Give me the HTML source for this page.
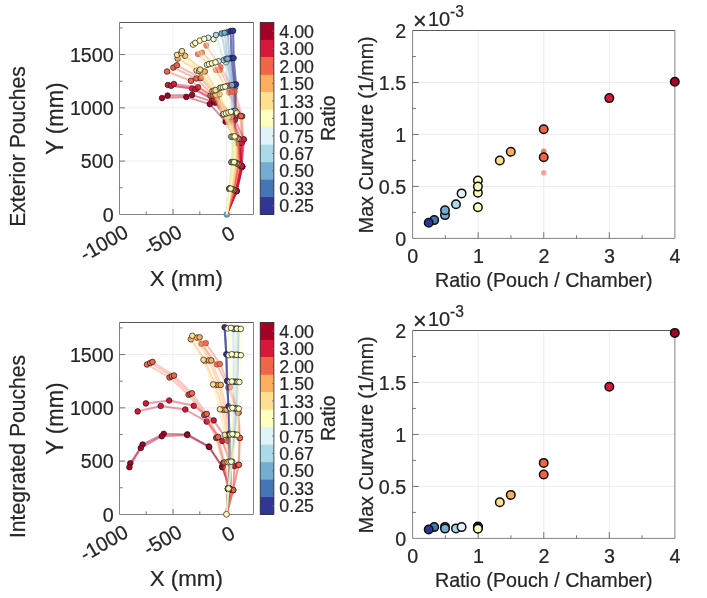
<!DOCTYPE html>
<html lang="en"><head><meta charset="utf-8"><title>Pouch ratio vs. curvature</title>
<style>
html,body{margin:0;padding:0;background:#fff;}
body{width:707px;height:598px;overflow:hidden;}
svg{display:block;will-change:transform;}
text{font-family:"Liberation Sans", Arial, Helvetica, sans-serif;fill:#262626;stroke:#262626;stroke-width:0.22px;}
.t18{font-size:17.8px;}.t19{font-size:19.7px;}.t20{font-size:19.7px;}.t20c{font-size:19.5px;}.t22{font-size:22.3px;}.t21r{font-size:20.2px;}.t20m{font-size:19.7px;}.t21{font-size:21.1px;}
.grid{stroke:#e9e9e9;stroke-width:0.8;}
.boxs{fill:none;stroke:#838383;stroke-width:1;}.boxt{fill:none;stroke:#454545;stroke-width:0.9;}
.cbox{fill:none;stroke:#262626;stroke-width:0.8;}
.tick{stroke:#666;stroke-width:0.9;}
.mk{stroke:#1a1a1a;stroke-width:0.7;}
.mk2{stroke:#0d0d0d;stroke-width:1.5;}
</style></head><body>
<svg width="707" height="598" viewBox="0 0 707 598">
<rect width="707" height="598" fill="#fff"/>
<text transform="translate(24.9 146.5) rotate(-90)" font-size="22.7" text-anchor="middle" textLength="160.6" lengthAdjust="spacingAndGlyphs">Exterior Pouches</text>
<text transform="translate(24.9 446.5) rotate(-90)" font-size="22.7" text-anchor="middle" textLength="183.0" lengthAdjust="spacingAndGlyphs">Integrated Pouches</text>
<g id="tl">
<line x1="173" y1="22.5" x2="173" y2="214.5" class="grid"/>
<line x1="226.6" y1="22.5" x2="226.6" y2="214.5" class="grid"/>
<line x1="119.5" y1="161.12" x2="253.5" y2="161.12" class="grid"/>
<line x1="119.5" y1="107.84" x2="253.5" y2="107.84" class="grid"/>
<line x1="119.5" y1="54.56" x2="253.5" y2="54.56" class="grid"/>
<path d="M119.5 214.5 V22.5" class="boxs"/><path d="M253.5 214.5 V22.5" class="boxs"/><path d="M119.5 214.5 H253.5" class="boxs"/><path d="M119.5 22.5 H253.5" class="boxt"/>
<line x1="119.5" y1="187.76" x2="122.6" y2="187.76" class="tick"/>
<line x1="119.5" y1="161.12" x2="125.1" y2="161.12" class="tick"/>
<line x1="119.5" y1="134.48" x2="122.6" y2="134.48" class="tick"/>
<line x1="119.5" y1="107.84" x2="125.1" y2="107.84" class="tick"/>
<line x1="119.5" y1="81.2" x2="122.6" y2="81.2" class="tick"/>
<line x1="119.5" y1="54.56" x2="125.1" y2="54.56" class="tick"/>
<line x1="119.5" y1="27.92" x2="122.6" y2="27.92" class="tick"/>
<line x1="146.2" y1="214.5" x2="146.2" y2="211.4" class="tick"/>
<line x1="173" y1="214.5" x2="173" y2="208.9" class="tick"/>
<line x1="199.8" y1="214.5" x2="199.8" y2="211.4" class="tick"/>
<line x1="226.6" y1="214.5" x2="226.6" y2="208.9" class="tick"/>
<text x="113.7" y="221.6" class="t19" text-anchor="end">0</text>
<text x="113.7" y="168.32" class="t19" text-anchor="end">500</text>
<text x="113.7" y="115.04" class="t19" text-anchor="end">1000</text>
<text x="113.7" y="61.76" class="t19" text-anchor="end">1500</text>
<text transform="translate(122.8 223.9) rotate(-30)" x="0" y="14" class="t21r" text-anchor="end">-1000</text>
<text transform="translate(176.4 223.9) rotate(-30)" x="0" y="14" class="t21r" text-anchor="end">-500</text>
<text transform="translate(229.6 225.1) rotate(-30)" x="0" y="14" class="t21r" text-anchor="end">0</text>
<text x="186.3" y="286.4" class="t22" text-anchor="middle">X (mm)</text>
<text transform="translate(63.4 118.6) rotate(-90)" font-size="23.2" text-anchor="middle" textLength="72.3" lengthAdjust="spacingAndGlyphs">Y (mm)</text>
<circle cx="226.8" cy="214.4" r="2.9" fill="#62a6cd" stroke="#3a7896" stroke-width="0.6"/>
<path d="M226.8 214.4 L230.6 188.7 L234.3 162.5 L235.8 137.6 L236.8 113 L235.1 87.5 L226 62.3 L213.5 39.1" fill="none" stroke="#ffffbf" stroke-width="2.0" stroke-opacity="0.43" stroke-linejoin="round"/>
<circle cx="230.6" cy="188.7" r="2.8" fill="#ffffbf" class="mk"/>
<circle cx="234.3" cy="162.5" r="2.8" fill="#ffffbf" class="mk"/>
<circle cx="235.8" cy="137.6" r="2.8" fill="#ffffbf" class="mk"/>
<circle cx="236.8" cy="113" r="2.8" fill="#ffffbf" class="mk"/>
<circle cx="235.1" cy="87.5" r="2.8" fill="#ffffbf" class="mk"/>
<circle cx="226" cy="62.3" r="2.8" fill="#ffffbf" class="mk"/>
<circle cx="213.5" cy="39.1" r="2.8" fill="#ffffbf" class="mk"/>
<path d="M226.8 214.4 L229.5 188.7 L231.8 162.2 L232.2 136.7" fill="none" stroke="#abd9e9" stroke-width="2.0" stroke-opacity="0.12" stroke-linejoin="round"/>
<path d="M232.2 136.7 L232 111.8 L229 85.6 L223.6 60.1 L216 35" fill="none" stroke="#abd9e9" stroke-width="2.0" stroke-opacity="0.43" stroke-linejoin="round"/>
<circle cx="229.5" cy="188.7" r="2.8" fill="#abd9e9" class="mk"/>
<circle cx="231.8" cy="162.2" r="2.8" fill="#abd9e9" class="mk"/>
<circle cx="232.2" cy="136.7" r="2.8" fill="#abd9e9" class="mk"/>
<circle cx="232" cy="111.8" r="2.8" fill="#abd9e9" class="mk"/>
<circle cx="229" cy="85.6" r="2.8" fill="#abd9e9" class="mk"/>
<circle cx="223.6" cy="60.1" r="2.8" fill="#abd9e9" class="mk"/>
<circle cx="216" cy="35" r="2.8" fill="#abd9e9" class="mk"/>
<path d="M226.8 214.4 L229.4 188.7 L231.6 162.2 L231.8 136.7" fill="none" stroke="#e0f3f8" stroke-width="2.0" stroke-opacity="0.12" stroke-linejoin="round"/>
<path d="M231.8 136.7 L231 112.2 L227 86.1 L218.5 61.3 L208.2 37.8" fill="none" stroke="#e0f3f8" stroke-width="2.0" stroke-opacity="0.43" stroke-linejoin="round"/>
<circle cx="229.4" cy="188.7" r="2.8" fill="#e0f3f8" class="mk"/>
<circle cx="231.6" cy="162.2" r="2.8" fill="#e0f3f8" class="mk"/>
<circle cx="231.8" cy="136.7" r="2.8" fill="#e0f3f8" class="mk"/>
<circle cx="231" cy="112.2" r="2.8" fill="#e0f3f8" class="mk"/>
<circle cx="227" cy="86.1" r="2.8" fill="#e0f3f8" class="mk"/>
<circle cx="218.5" cy="61.3" r="2.8" fill="#e0f3f8" class="mk"/>
<circle cx="208.2" cy="37.8" r="2.8" fill="#e0f3f8" class="mk"/>
<path d="M226.8 214.4 L229.8 188.7 L232.4 162.2 L233.3 136.6" fill="none" stroke="#4575b4" stroke-width="2.0" stroke-opacity="0.12" stroke-linejoin="round"/>
<path d="M233.3 136.6 L234.8 111 L233 85 L229.5 58.5 L227.6 32.2" fill="none" stroke="#4575b4" stroke-width="2.0" stroke-opacity="0.43" stroke-linejoin="round"/>
<circle cx="229.8" cy="188.7" r="2.8" fill="#4575b4" class="mk"/>
<circle cx="232.4" cy="162.2" r="2.8" fill="#4575b4" class="mk"/>
<circle cx="233.3" cy="136.6" r="2.8" fill="#4575b4" class="mk"/>
<circle cx="234.8" cy="111" r="2.8" fill="#4575b4" class="mk"/>
<circle cx="233" cy="85" r="2.8" fill="#4575b4" class="mk"/>
<circle cx="229.5" cy="58.5" r="2.8" fill="#4575b4" class="mk"/>
<circle cx="227.6" cy="32.2" r="2.8" fill="#4575b4" class="mk"/>
<path d="M226.8 214.4 L229.9 188.6 L232.6 162.2 L233.6 136.6" fill="none" stroke="#313695" stroke-width="2.0" stroke-opacity="0.12" stroke-linejoin="round"/>
<path d="M233.6 136.6 L235 111 L234.5 84.8 L231.6 58.1 L230.6 31" fill="none" stroke="#313695" stroke-width="2.0" stroke-opacity="0.43" stroke-linejoin="round"/>
<path d="M233.6 136.6 L235 111 L234.5 84.8 L231.6 58.1 L230.6 31" fill="none" stroke="#313695" stroke-width="2.0" stroke-opacity="0.43" stroke-linejoin="round"/>
<circle cx="229.9" cy="188.6" r="2.8" fill="#313695" class="mk"/>
<circle cx="232.6" cy="162.2" r="2.8" fill="#313695" class="mk"/>
<circle cx="233.6" cy="136.6" r="2.8" fill="#313695" class="mk"/>
<circle cx="235" cy="111" r="2.8" fill="#313695" class="mk"/>
<circle cx="234.5" cy="84.8" r="2.8" fill="#313695" class="mk"/>
<circle cx="231.6" cy="58.1" r="2.8" fill="#313695" class="mk"/>
<circle cx="230.6" cy="31" r="2.8" fill="#313695" class="mk"/>
<path d="M226.8 214.4 L230 188.6 L232.8 162.2 L234 136.6" fill="none" stroke="#313695" stroke-width="2.0" stroke-opacity="0.12" stroke-linejoin="round"/>
<path d="M234 136.6 L235.6 111 L236 84.3 L233.6 58.1 L233.1 30.8" fill="none" stroke="#313695" stroke-width="2.0" stroke-opacity="0.43" stroke-linejoin="round"/>
<path d="M234 136.6 L235.6 111 L236 84.3 L233.6 58.1 L233.1 30.8" fill="none" stroke="#313695" stroke-width="2.0" stroke-opacity="0.43" stroke-linejoin="round"/>
<circle cx="230" cy="188.6" r="2.8" fill="#313695" class="mk"/>
<circle cx="232.8" cy="162.2" r="2.8" fill="#313695" class="mk"/>
<circle cx="234" cy="136.6" r="2.8" fill="#313695" class="mk"/>
<circle cx="235.6" cy="111" r="2.8" fill="#313695" class="mk"/>
<circle cx="236" cy="84.3" r="2.8" fill="#313695" class="mk"/>
<circle cx="233.6" cy="58.1" r="2.8" fill="#313695" class="mk"/>
<circle cx="233.1" cy="30.8" r="2.8" fill="#313695" class="mk"/>
<path d="M226.8 214.4 L229.6 188.7 L232 162.2 L232.6 136.7" fill="none" stroke="#74add1" stroke-width="2.0" stroke-opacity="0.12" stroke-linejoin="round"/>
<path d="M232.6 136.7 L233 111.4 L230.9 85.5 L226.3 58.9 L221.6 33.5" fill="none" stroke="#74add1" stroke-width="2.0" stroke-opacity="0.43" stroke-linejoin="round"/>
<circle cx="229.6" cy="188.7" r="2.8" fill="#74add1" class="mk"/>
<circle cx="232" cy="162.2" r="2.8" fill="#74add1" class="mk"/>
<circle cx="232.6" cy="136.7" r="2.8" fill="#74add1" class="mk"/>
<circle cx="233" cy="111.4" r="2.8" fill="#74add1" class="mk"/>
<circle cx="230.9" cy="85.5" r="2.8" fill="#74add1" class="mk"/>
<circle cx="226.3" cy="58.9" r="2.8" fill="#74add1" class="mk"/>
<circle cx="221.6" cy="33.5" r="2.8" fill="#74add1" class="mk"/>
<path d="M226.8 214.4 L229.7 188.7 L232.2 162.2 L233 136.6" fill="none" stroke="#74add1" stroke-width="2.0" stroke-opacity="0.12" stroke-linejoin="round"/>
<path d="M233 136.6 L235.1 110.8 L232 85.1 L227.5 58.8 L224.6 32.8" fill="none" stroke="#74add1" stroke-width="2.0" stroke-opacity="0.43" stroke-linejoin="round"/>
<circle cx="229.7" cy="188.7" r="2.8" fill="#74add1" class="mk"/>
<circle cx="232.2" cy="162.2" r="2.8" fill="#74add1" class="mk"/>
<circle cx="233" cy="136.6" r="2.8" fill="#74add1" class="mk"/>
<circle cx="235.1" cy="110.8" r="2.8" fill="#74add1" class="mk"/>
<circle cx="232" cy="85.1" r="2.8" fill="#74add1" class="mk"/>
<circle cx="227.5" cy="58.8" r="2.8" fill="#74add1" class="mk"/>
<circle cx="224.6" cy="32.8" r="2.8" fill="#74add1" class="mk"/>
<circle cx="237" cy="112.9" r="2.8" fill="#ffffbf" class="mk"/>
<path d="M226.8 214.4 L234.5 190.1 L239.5 164.5 L243.1 140.1 L242.2 116.3 L234.7 91.3 L220.6 67.1 L206.2 45.6" fill="none" stroke="#f16448" stroke-width="2.0" stroke-opacity="0.33" stroke-linejoin="round"/>
<circle cx="234.5" cy="190.1" r="2.8" fill="#f16448" class="mk"/>
<circle cx="239.5" cy="164.5" r="2.8" fill="#f16448" class="mk"/>
<circle cx="243.1" cy="140.1" r="2.8" fill="#f16448" class="mk"/>
<circle cx="242.2" cy="116.3" r="2.8" fill="#f16448" class="mk"/>
<circle cx="234.7" cy="91.3" r="2.8" fill="#f16448" fill-opacity="0.82" stroke="#401510" stroke-opacity="0.3" stroke-width="0.7"/>
<circle cx="220.6" cy="67.1" r="2.8" fill="#f16448" fill-opacity="0.82" stroke="#401510" stroke-opacity="0.3" stroke-width="0.7"/>
<circle cx="206.2" cy="45.6" r="2.8" fill="#f16448" fill-opacity="0.82" stroke="#401510" stroke-opacity="0.3" stroke-width="0.7"/>
<path d="M226.8 214.4 L234.2 190.1 L238.8 164.4 L242.3 140.3 L240.1 115.9 L228.8 92.6 L216 70.2 L197.9 54.1" fill="none" stroke="#f16448" stroke-width="2.0" stroke-opacity="0.33" stroke-linejoin="round"/>
<circle cx="234.2" cy="190.1" r="2.8" fill="#f16448" class="mk"/>
<circle cx="238.8" cy="164.4" r="2.8" fill="#f16448" class="mk"/>
<circle cx="242.3" cy="140.3" r="2.8" fill="#f16448" class="mk"/>
<circle cx="240.1" cy="115.9" r="2.8" fill="#f16448" class="mk"/>
<circle cx="228.8" cy="92.6" r="2.8" fill="#f16448" fill-opacity="0.82" stroke="#401510" stroke-opacity="0.3" stroke-width="0.7"/>
<circle cx="216" cy="70.2" r="2.8" fill="#f16448" fill-opacity="0.82" stroke="#401510" stroke-opacity="0.3" stroke-width="0.7"/>
<circle cx="197.9" cy="54.1" r="2.8" fill="#f16448" fill-opacity="0.82" stroke="#401510" stroke-opacity="0.3" stroke-width="0.7"/>
<path d="M226.8 214.4 L234.4 190.1 L239.2 164.5 L242.8 140.2 L241 116 L232 91.8 L219.6 70.2 L202 52.6" fill="none" stroke="#f16448" stroke-width="2.0" stroke-opacity="0.33" stroke-linejoin="round"/>
<circle cx="234.4" cy="190.1" r="2.8" fill="#f16448" class="mk"/>
<circle cx="239.2" cy="164.5" r="2.8" fill="#f16448" class="mk"/>
<circle cx="242.8" cy="140.2" r="2.8" fill="#f16448" class="mk"/>
<circle cx="241" cy="116" r="2.8" fill="#f16448" class="mk"/>
<circle cx="232" cy="91.8" r="2.8" fill="#f16448" fill-opacity="0.82" stroke="#401510" stroke-opacity="0.3" stroke-width="0.7"/>
<circle cx="219.6" cy="70.2" r="2.8" fill="#f16448" fill-opacity="0.82" stroke="#401510" stroke-opacity="0.3" stroke-width="0.7"/>
<circle cx="202" cy="52.6" r="2.8" fill="#f16448" fill-opacity="0.82" stroke="#401510" stroke-opacity="0.3" stroke-width="0.7"/>
<path d="M226.8 214.4 L236.6 191.1 L242.1 166.6 L237.6 143.1" fill="none" stroke="#a50026" stroke-width="2" stroke-opacity="0.4" stroke-linejoin="round"/>
<path d="M226.8 214.4 L236.6 191.1 L242.1 166.6 L237.6 143.1 L225.6 121.7 L209.8 104.1 L186.3 96.9 L162 98.1" fill="none" stroke="#a50026" stroke-width="2.0" stroke-opacity="0.43" stroke-linejoin="round"/>
<circle cx="236.6" cy="191.1" r="2.8" fill="#a50026" class="mk"/>
<circle cx="242.1" cy="166.6" r="2.8" fill="#a50026" class="mk"/>
<circle cx="237.6" cy="143.1" r="2.8" fill="#a50026" class="mk"/>
<circle cx="225.6" cy="121.7" r="2.8" fill="#a50026" class="mk"/>
<circle cx="209.8" cy="104.1" r="2.8" fill="#a50026" class="mk"/>
<circle cx="186.3" cy="96.9" r="2.8" fill="#a50026" class="mk"/>
<circle cx="162" cy="98.1" r="2.8" fill="#a50026" class="mk"/>
<path d="M226.8 214.4 L236.7 191.1 L242.4 166.7 L239 143" fill="none" stroke="#a50026" stroke-width="2" stroke-opacity="0.4" stroke-linejoin="round"/>
<path d="M226.8 214.4 L236.7 191.1 L242.4 166.7 L239 143 L229 122 L215 102.6 L192.1 94.9 L167.6 95.6" fill="none" stroke="#a50026" stroke-width="2.0" stroke-opacity="0.43" stroke-linejoin="round"/>
<circle cx="236.7" cy="191.1" r="2.8" fill="#a50026" class="mk"/>
<circle cx="242.4" cy="166.7" r="2.8" fill="#a50026" class="mk"/>
<circle cx="239" cy="143" r="2.8" fill="#a50026" class="mk"/>
<circle cx="229" cy="122" r="2.8" fill="#a50026" class="mk"/>
<circle cx="215" cy="102.6" r="2.8" fill="#a50026" class="mk"/>
<circle cx="192.1" cy="94.9" r="2.8" fill="#a50026" class="mk"/>
<circle cx="167.6" cy="95.6" r="2.8" fill="#a50026" class="mk"/>
<path d="M226.8 214.4 L236 190.9 L241 166 L240.1 142.6" fill="none" stroke="#d8183a" stroke-width="2" stroke-opacity="0.4" stroke-linejoin="round"/>
<path d="M226.8 214.4 L236 190.9 L241 166 L240.1 142.6 L231 118.5 L212 99 L192.1 88.6 L167.9 85" fill="none" stroke="#d8183a" stroke-width="2.0" stroke-opacity="0.43" stroke-linejoin="round"/>
<circle cx="236" cy="190.9" r="2.8" fill="#d8183a" class="mk"/>
<circle cx="241" cy="166" r="2.8" fill="#d8183a" class="mk"/>
<circle cx="240.1" cy="142.6" r="2.8" fill="#d8183a" class="mk"/>
<circle cx="231" cy="118.5" r="2.8" fill="#d8183a" class="mk"/>
<circle cx="212" cy="99" r="2.8" fill="#d8183a" class="mk"/>
<circle cx="192.1" cy="88.6" r="2.8" fill="#d8183a" class="mk"/>
<circle cx="167.9" cy="85" r="2.8" fill="#d8183a" class="mk"/>
<path d="M226.8 214.4 L236.15 190.9 L241.3 166 L241.8 142.7" fill="none" stroke="#d8183a" stroke-width="2" stroke-opacity="0.4" stroke-linejoin="round"/>
<path d="M226.8 214.4 L236.15 190.9 L241.3 166 L241.8 142.7 L233 119 L214 99.6 L195.6 89.1 L171.1 85.8" fill="none" stroke="#d8183a" stroke-width="2.0" stroke-opacity="0.43" stroke-linejoin="round"/>
<circle cx="236.15" cy="190.9" r="2.8" fill="#d8183a" class="mk"/>
<circle cx="241.3" cy="166" r="2.8" fill="#d8183a" class="mk"/>
<circle cx="241.8" cy="142.7" r="2.8" fill="#d8183a" class="mk"/>
<circle cx="233" cy="119" r="2.8" fill="#d8183a" class="mk"/>
<circle cx="214" cy="99.6" r="2.8" fill="#d8183a" class="mk"/>
<circle cx="195.6" cy="89.1" r="2.8" fill="#d8183a" class="mk"/>
<circle cx="171.1" cy="85.8" r="2.8" fill="#d8183a" class="mk"/>
<path d="M226.8 214.4 L236.3 190.9 L241.5 165.9 L243.9 139.3" fill="none" stroke="#d8183a" stroke-width="2" stroke-opacity="0.4" stroke-linejoin="round"/>
<path d="M226.8 214.4 L236.3 190.9 L241.5 165.9 L243.9 139.3 L235.1 119.6 L216.5 98.5 L198.1 87.3 L173.9 84" fill="none" stroke="#d8183a" stroke-width="2.0" stroke-opacity="0.43" stroke-linejoin="round"/>
<circle cx="236.3" cy="190.9" r="2.8" fill="#d8183a" class="mk"/>
<circle cx="241.5" cy="165.9" r="2.8" fill="#d8183a" class="mk"/>
<circle cx="243.9" cy="139.3" r="2.8" fill="#d8183a" class="mk"/>
<circle cx="235.1" cy="119.6" r="2.8" fill="#d8183a" class="mk"/>
<circle cx="216.5" cy="98.5" r="2.8" fill="#d8183a" class="mk"/>
<circle cx="198.1" cy="87.3" r="2.8" fill="#d8183a" class="mk"/>
<circle cx="173.9" cy="84" r="2.8" fill="#d8183a" class="mk"/>
<path d="M226.8 214.4 L234 190.1 L238.1 164.1 L238 139.2 L229 116 L210.5 95.6 L190.9 80.8 L167.05 71.5" fill="none" stroke="#f16448" stroke-width="2.0" stroke-opacity="0.43" stroke-linejoin="round"/>
<circle cx="234" cy="190.1" r="2.8" fill="#f16448" class="mk"/>
<circle cx="238.1" cy="164.1" r="2.8" fill="#f16448" class="mk"/>
<circle cx="238" cy="139.2" r="2.8" fill="#f16448" class="mk"/>
<circle cx="229" cy="116" r="2.8" fill="#f16448" class="mk"/>
<circle cx="210.5" cy="95.6" r="2.8" fill="#f16448" class="mk"/>
<circle cx="190.9" cy="80.8" r="2.8" fill="#f16448" class="mk"/>
<circle cx="167.05" cy="71.5" r="2.8" fill="#f16448" class="mk"/>
<path d="M226.8 214.4 L234.1 190.1 L238.3 164.1 L238.5 139 L230.5 116.3 L213 95.5 L196.3 78.5 L173.3 67.6" fill="none" stroke="#f16448" stroke-width="2.0" stroke-opacity="0.43" stroke-linejoin="round"/>
<circle cx="234.1" cy="190.1" r="2.8" fill="#f16448" class="mk"/>
<circle cx="238.3" cy="164.1" r="2.8" fill="#f16448" class="mk"/>
<circle cx="238.5" cy="139" r="2.8" fill="#f16448" class="mk"/>
<circle cx="230.5" cy="116.3" r="2.8" fill="#f16448" class="mk"/>
<circle cx="213" cy="95.5" r="2.8" fill="#f16448" class="mk"/>
<circle cx="196.3" cy="78.5" r="2.8" fill="#f16448" class="mk"/>
<circle cx="173.3" cy="67.6" r="2.8" fill="#f16448" class="mk"/>
<path d="M226.8 214.4 L234.2 190.1 L238.5 164.1 L239 138.9 L232 116.5 L216 95.1 L200.7 78 L176.9 65.3" fill="none" stroke="#f16448" stroke-width="2.0" stroke-opacity="0.43" stroke-linejoin="round"/>
<circle cx="234.2" cy="190.1" r="2.8" fill="#f16448" class="mk"/>
<circle cx="238.5" cy="164.1" r="2.8" fill="#f16448" class="mk"/>
<circle cx="239" cy="138.9" r="2.8" fill="#f16448" class="mk"/>
<circle cx="232" cy="116.5" r="2.8" fill="#f16448" class="mk"/>
<circle cx="216" cy="95.1" r="2.8" fill="#f16448" class="mk"/>
<circle cx="200.7" cy="78" r="2.8" fill="#f16448" class="mk"/>
<circle cx="176.9" cy="65.3" r="2.8" fill="#f16448" class="mk"/>
<path d="M226.8 214.4 L232.4 189.4 L236.4 163.3 L236.8 138.4 L226.6 117.3 L215.5 94.6 L201 72.3 L177.6 58.6" fill="none" stroke="#fdae61" stroke-width="2.0" stroke-opacity="0.43" stroke-linejoin="round"/>
<circle cx="232.4" cy="189.4" r="2.8" fill="#fdae61" class="mk"/>
<circle cx="236.4" cy="163.3" r="2.8" fill="#fdae61" class="mk"/>
<circle cx="236.8" cy="138.4" r="2.8" fill="#fdae61" class="mk"/>
<circle cx="226.6" cy="117.3" r="2.8" fill="#fdae61" class="mk"/>
<circle cx="215.5" cy="94.6" r="2.8" fill="#fdae61" class="mk"/>
<circle cx="201" cy="72.3" r="2.8" fill="#fdae61" class="mk"/>
<circle cx="177.6" cy="58.6" r="2.8" fill="#fdae61" class="mk"/>
<path d="M226.8 214.4 L232.6 189.4 L236.6 163.3 L237.5 138.3 L228.6 117.1 L219.6 94.2 L204.8 71.5 L185.1 55.9" fill="none" stroke="#fdae61" stroke-width="2.0" stroke-opacity="0.43" stroke-linejoin="round"/>
<circle cx="232.6" cy="189.4" r="2.8" fill="#fdae61" class="mk"/>
<circle cx="236.6" cy="163.3" r="2.8" fill="#fdae61" class="mk"/>
<circle cx="237.5" cy="138.3" r="2.8" fill="#fdae61" class="mk"/>
<circle cx="228.6" cy="117.1" r="2.8" fill="#fdae61" class="mk"/>
<circle cx="219.6" cy="94.2" r="2.8" fill="#fdae61" class="mk"/>
<circle cx="204.8" cy="71.5" r="2.8" fill="#fdae61" class="mk"/>
<circle cx="185.1" cy="55.9" r="2.8" fill="#fdae61" class="mk"/>
<path d="M226.8 214.4 L230.8 188.8 L234.5 162.5 L234.5 137.4 L223 114.5 L212.5 90.9 L196.6 70.6 L177.1 54.9" fill="none" stroke="#fee090" stroke-width="2.0" stroke-opacity="0.43" stroke-linejoin="round"/>
<circle cx="230.8" cy="188.8" r="2.8" fill="#fee090" class="mk"/>
<circle cx="234.5" cy="162.5" r="2.8" fill="#fee090" class="mk"/>
<circle cx="234.5" cy="137.4" r="2.8" fill="#fee090" class="mk"/>
<circle cx="223" cy="114.5" r="2.8" fill="#fee090" class="mk"/>
<circle cx="212.5" cy="90.9" r="2.8" fill="#fee090" class="mk"/>
<circle cx="196.6" cy="70.6" r="2.8" fill="#fee090" class="mk"/>
<circle cx="177.1" cy="54.9" r="2.8" fill="#fee090" class="mk"/>
<path d="M226.8 214.4 L231 188.8 L234.8 162.5 L235 137.3 L224.3 114.2 L214 90.5 L199.1 71 L181.3 53.1" fill="none" stroke="#fee090" stroke-width="2.0" stroke-opacity="0.43" stroke-linejoin="round"/>
<circle cx="231" cy="188.8" r="2.8" fill="#fee090" class="mk"/>
<circle cx="234.8" cy="162.5" r="2.8" fill="#fee090" class="mk"/>
<circle cx="235" cy="137.3" r="2.8" fill="#fee090" class="mk"/>
<circle cx="224.3" cy="114.2" r="2.8" fill="#fee090" class="mk"/>
<circle cx="214" cy="90.5" r="2.8" fill="#fee090" class="mk"/>
<circle cx="199.1" cy="71" r="2.8" fill="#fee090" class="mk"/>
<circle cx="181.3" cy="53.1" r="2.8" fill="#fee090" class="mk"/>
<path d="M226.8 214.4 L231.2 188.8 L235 162.5 L235.5 137.2 L225.5 114 L215.5 90.1 L200.2 69.6 L181.9 51.1" fill="none" stroke="#fee090" stroke-width="2.0" stroke-opacity="0.43" stroke-linejoin="round"/>
<circle cx="231.2" cy="188.8" r="2.8" fill="#fee090" class="mk"/>
<circle cx="235" cy="162.5" r="2.8" fill="#fee090" class="mk"/>
<circle cx="235.5" cy="137.2" r="2.8" fill="#fee090" class="mk"/>
<circle cx="225.5" cy="114" r="2.8" fill="#fee090" class="mk"/>
<circle cx="215.5" cy="90.1" r="2.8" fill="#fee090" class="mk"/>
<circle cx="200.2" cy="69.6" r="2.8" fill="#fee090" class="mk"/>
<circle cx="181.9" cy="51.1" r="2.8" fill="#fee090" class="mk"/>
<path d="M226.8 214.4 L229.2 188.7 L231.6 162.2 L231.2 136.7 L223.8 113.9 L220 87.8 L207 64.9 L193.1 44.6" fill="none" stroke="#ffffbf" stroke-width="2.0" stroke-opacity="0.43" stroke-linejoin="round"/>
<circle cx="229.2" cy="188.7" r="2.8" fill="#ffffbf" class="mk"/>
<circle cx="231.6" cy="162.2" r="2.8" fill="#ffffbf" class="mk"/>
<circle cx="231.2" cy="136.7" r="2.8" fill="#ffffbf" class="mk"/>
<circle cx="223.8" cy="113.9" r="2.8" fill="#ffffbf" class="mk"/>
<circle cx="220" cy="87.8" r="2.8" fill="#ffffbf" class="mk"/>
<circle cx="207" cy="64.9" r="2.8" fill="#ffffbf" class="mk"/>
<circle cx="193.1" cy="44.6" r="2.8" fill="#ffffbf" class="mk"/>
<path d="M226.8 214.4 L229.7 188.7 L232.4 162.2 L232.4 136.6 L226 113.3 L221.3 87.5 L209 64.1 L195.3 42.9" fill="none" stroke="#ffffbf" stroke-width="2.0" stroke-opacity="0.43" stroke-linejoin="round"/>
<circle cx="229.7" cy="188.7" r="2.8" fill="#ffffbf" class="mk"/>
<circle cx="232.4" cy="162.2" r="2.8" fill="#ffffbf" class="mk"/>
<circle cx="232.4" cy="136.6" r="2.8" fill="#ffffbf" class="mk"/>
<circle cx="226" cy="113.3" r="2.8" fill="#ffffbf" class="mk"/>
<circle cx="221.3" cy="87.5" r="2.8" fill="#ffffbf" class="mk"/>
<circle cx="209" cy="64.1" r="2.8" fill="#ffffbf" class="mk"/>
<circle cx="195.3" cy="42.9" r="2.8" fill="#ffffbf" class="mk"/>
<path d="M226.8 214.4 L230.2 188.7 L233.3 162.1 L233.6 136.5 L228.5 112.5 L223 87.2 L212 63.3 L199.8 40.6" fill="none" stroke="#ffffbf" stroke-width="2.0" stroke-opacity="0.43" stroke-linejoin="round"/>
<circle cx="230.2" cy="188.7" r="2.8" fill="#ffffbf" class="mk"/>
<circle cx="233.3" cy="162.1" r="2.8" fill="#ffffbf" class="mk"/>
<circle cx="233.6" cy="136.5" r="2.8" fill="#ffffbf" class="mk"/>
<circle cx="228.5" cy="112.5" r="2.8" fill="#ffffbf" class="mk"/>
<circle cx="223" cy="87.2" r="2.8" fill="#ffffbf" class="mk"/>
<circle cx="212" cy="63.3" r="2.8" fill="#ffffbf" class="mk"/>
<circle cx="199.8" cy="40.6" r="2.8" fill="#ffffbf" class="mk"/>
<path d="M226.8 214.4 L230.6 188.6 L234.1 162.1 L234.7 136.4 L230.9 111.8 L225.1 86.7 L215.5 62.3 L204.2 38.9" fill="none" stroke="#ffffbf" stroke-width="2.0" stroke-opacity="0.43" stroke-linejoin="round"/>
<circle cx="230.6" cy="188.6" r="2.8" fill="#ffffbf" class="mk"/>
<circle cx="234.1" cy="162.1" r="2.8" fill="#ffffbf" class="mk"/>
<circle cx="234.7" cy="136.4" r="2.8" fill="#ffffbf" class="mk"/>
<circle cx="230.9" cy="111.8" r="2.8" fill="#ffffbf" class="mk"/>
<circle cx="225.1" cy="86.7" r="2.8" fill="#ffffbf" class="mk"/>
<circle cx="215.5" cy="62.3" r="2.8" fill="#ffffbf" class="mk"/>
<circle cx="204.2" cy="38.9" r="2.8" fill="#ffffbf" class="mk"/>
<rect x="260.2" y="22.4" width="13.7" height="17.76" fill="#a50026"/>
<rect x="260.2" y="39.86" width="13.7" height="17.76" fill="#d8183a"/>
<rect x="260.2" y="57.33" width="13.7" height="17.76" fill="#f16448"/>
<rect x="260.2" y="74.79" width="13.7" height="17.76" fill="#fdae61"/>
<rect x="260.2" y="92.25" width="13.7" height="17.76" fill="#fee090"/>
<rect x="260.2" y="109.72" width="13.7" height="17.76" fill="#ffffbf"/>
<rect x="260.2" y="127.18" width="13.7" height="17.76" fill="#e0f3f8"/>
<rect x="260.2" y="144.65" width="13.7" height="17.76" fill="#abd9e9"/>
<rect x="260.2" y="162.11" width="13.7" height="17.76" fill="#74add1"/>
<rect x="260.2" y="179.57" width="13.7" height="17.76" fill="#4575b4"/>
<rect x="260.2" y="197.04" width="13.7" height="17.76" fill="#313695"/>
<rect x="260.2" y="22.4" width="13.7" height="192.1" class="cbox"/>
<line x1="272.1" y1="31.13" x2="273.9" y2="31.13" class="tick"/>
<text x="279.3" y="37.73" class="t18">4.00</text>
<line x1="272.1" y1="48.6" x2="273.9" y2="48.6" class="tick"/>
<text x="279.3" y="55.2" class="t18">3.00</text>
<line x1="272.1" y1="66.06" x2="273.9" y2="66.06" class="tick"/>
<text x="279.3" y="72.66" class="t18">2.00</text>
<line x1="272.1" y1="83.52" x2="273.9" y2="83.52" class="tick"/>
<text x="279.3" y="90.12" class="t18">1.50</text>
<line x1="272.1" y1="100.99" x2="273.9" y2="100.99" class="tick"/>
<text x="279.3" y="107.59" class="t18">1.33</text>
<line x1="272.1" y1="118.45" x2="273.9" y2="118.45" class="tick"/>
<text x="279.3" y="125.05" class="t18">1.00</text>
<line x1="272.1" y1="135.91" x2="273.9" y2="135.91" class="tick"/>
<text x="279.3" y="142.51" class="t18">0.75</text>
<line x1="272.1" y1="153.38" x2="273.9" y2="153.38" class="tick"/>
<text x="279.3" y="159.98" class="t18">0.67</text>
<line x1="272.1" y1="170.84" x2="273.9" y2="170.84" class="tick"/>
<text x="279.3" y="177.44" class="t18">0.50</text>
<line x1="272.1" y1="188.3" x2="273.9" y2="188.3" class="tick"/>
<text x="279.3" y="194.9" class="t18">0.33</text>
<line x1="272.1" y1="205.77" x2="273.9" y2="205.77" class="tick"/>
<text x="279.3" y="212.37" class="t18">0.25</text>
<text transform="translate(335.4 118.2) rotate(-90)" class="t20c" text-anchor="middle">Ratio</text>
</g>
<g id="bl">
<line x1="173" y1="322.5" x2="173" y2="514.5" class="grid"/>
<line x1="226.6" y1="322.5" x2="226.6" y2="514.5" class="grid"/>
<line x1="119.5" y1="461.12" x2="253.5" y2="461.12" class="grid"/>
<line x1="119.5" y1="407.84" x2="253.5" y2="407.84" class="grid"/>
<line x1="119.5" y1="354.56" x2="253.5" y2="354.56" class="grid"/>
<path d="M119.5 514.5 V322.5" class="boxs"/><path d="M253.5 514.5 V322.5" class="boxs"/><path d="M119.5 514.5 H253.5" class="boxs"/><path d="M119.5 322.5 H253.5" class="boxt"/>
<line x1="119.5" y1="487.76" x2="122.6" y2="487.76" class="tick"/>
<line x1="119.5" y1="461.12" x2="125.1" y2="461.12" class="tick"/>
<line x1="119.5" y1="434.48" x2="122.6" y2="434.48" class="tick"/>
<line x1="119.5" y1="407.84" x2="125.1" y2="407.84" class="tick"/>
<line x1="119.5" y1="381.2" x2="122.6" y2="381.2" class="tick"/>
<line x1="119.5" y1="354.56" x2="125.1" y2="354.56" class="tick"/>
<line x1="119.5" y1="327.92" x2="122.6" y2="327.92" class="tick"/>
<line x1="146.2" y1="514.5" x2="146.2" y2="511.4" class="tick"/>
<line x1="173" y1="514.5" x2="173" y2="508.9" class="tick"/>
<line x1="199.8" y1="514.5" x2="199.8" y2="511.4" class="tick"/>
<line x1="226.6" y1="514.5" x2="226.6" y2="508.9" class="tick"/>
<text x="113.7" y="521.6" class="t19" text-anchor="end">0</text>
<text x="113.7" y="468.32" class="t19" text-anchor="end">500</text>
<text x="113.7" y="415.04" class="t19" text-anchor="end">1000</text>
<text x="113.7" y="361.76" class="t19" text-anchor="end">1500</text>
<text transform="translate(122.8 523.9) rotate(-30)" x="0" y="14" class="t21r" text-anchor="end">-1000</text>
<text transform="translate(176.4 523.9) rotate(-30)" x="0" y="14" class="t21r" text-anchor="end">-500</text>
<text transform="translate(229.6 525.1) rotate(-30)" x="0" y="14" class="t21r" text-anchor="end">0</text>
<text x="186.3" y="586.4" class="t22" text-anchor="middle">X (mm)</text>
<text transform="translate(63.4 418.6) rotate(-90)" font-size="23.2" text-anchor="middle" textLength="72.3" lengthAdjust="spacingAndGlyphs">Y (mm)</text>
<path d="M226.5 514.3 L230 489.2 L222.2 466.8 L208.8 446.5 L187.3 434.4 L163.7 433.8 L142.6 444.5 L130.3 463.2" fill="none" stroke="#a50026" stroke-width="2.0" stroke-opacity="0.43" stroke-linejoin="round"/>
<circle cx="230" cy="489.2" r="2.8" fill="#a50026" class="mk"/>
<circle cx="222.2" cy="466.8" r="2.8" fill="#a50026" class="mk"/>
<circle cx="208.8" cy="446.5" r="2.8" fill="#a50026" class="mk"/>
<circle cx="187.3" cy="434.4" r="2.8" fill="#a50026" class="mk"/>
<circle cx="163.7" cy="433.8" r="2.8" fill="#a50026" class="mk"/>
<circle cx="142.6" cy="444.5" r="2.8" fill="#a50026" class="mk"/>
<circle cx="130.3" cy="463.2" r="2.8" fill="#a50026" class="mk"/>
<path d="M226.5 514.3 L230.2 489.3 L222.5 467.2 L209.2 447 L187.2 435 L161.8 436.2 L140.8 448 L129.4 467.2" fill="none" stroke="#a50026" stroke-width="2.0" stroke-opacity="0.43" stroke-linejoin="round"/>
<circle cx="230.2" cy="489.3" r="2.8" fill="#a50026" class="mk"/>
<circle cx="222.5" cy="467.2" r="2.8" fill="#a50026" class="mk"/>
<circle cx="209.2" cy="447" r="2.8" fill="#a50026" class="mk"/>
<circle cx="187.2" cy="435" r="2.8" fill="#a50026" class="mk"/>
<circle cx="161.8" cy="436.2" r="2.8" fill="#a50026" class="mk"/>
<circle cx="140.8" cy="448" r="2.8" fill="#a50026" class="mk"/>
<circle cx="129.4" cy="467.2" r="2.8" fill="#a50026" class="mk"/>
<path d="M226.5 514.3 L231 489.6 L231 464.5 L222.2 440.9 L206.7 421.6 L185.3 409.5 L160.7 406 L137.7 411.4" fill="none" stroke="#d8183a" stroke-width="2.0" stroke-opacity="0.43" stroke-linejoin="round"/>
<circle cx="231" cy="489.6" r="2.8" fill="#d8183a" class="mk"/>
<circle cx="231" cy="464.5" r="2.8" fill="#d8183a" class="mk"/>
<circle cx="222.2" cy="440.9" r="2.8" fill="#d8183a" class="mk"/>
<circle cx="206.7" cy="421.6" r="2.8" fill="#d8183a" class="mk"/>
<circle cx="185.3" cy="409.5" r="2.8" fill="#d8183a" class="mk"/>
<circle cx="160.7" cy="406" r="2.8" fill="#d8183a" class="mk"/>
<circle cx="137.7" cy="411.4" r="2.8" fill="#d8183a" class="mk"/>
<path d="M226.5 514.3 L233.2 490.2 L234.5 466.1 L227.7 440.9 L213.7 420.4 L193.8 405.8 L169.2 400.5 L145.9 403.4" fill="none" stroke="#d8183a" stroke-width="2.0" stroke-opacity="0.43" stroke-linejoin="round"/>
<circle cx="233.2" cy="490.2" r="2.8" fill="#d8183a" class="mk"/>
<circle cx="234.5" cy="466.1" r="2.8" fill="#d8183a" class="mk"/>
<circle cx="227.7" cy="440.9" r="2.8" fill="#d8183a" class="mk"/>
<circle cx="213.7" cy="420.4" r="2.8" fill="#d8183a" class="mk"/>
<circle cx="193.8" cy="405.8" r="2.8" fill="#d8183a" class="mk"/>
<circle cx="169.2" cy="400.5" r="2.8" fill="#d8183a" class="mk"/>
<circle cx="145.9" cy="403.4" r="2.8" fill="#d8183a" class="mk"/>
<path d="M226.5 514.3 L233 490 L238.5 464.8 L239.4 437.9 L237.7 412.8 L228.3 387.6 L216.8 364.5 L201.4 343.8" fill="none" stroke="#f16448" stroke-width="2.0" stroke-opacity="0.4" stroke-linejoin="round"/>
<circle cx="233" cy="490" r="2.8" fill="#f16448" class="mk"/>
<circle cx="238.5" cy="464.8" r="2.8" fill="#f16448" class="mk"/>
<circle cx="239.4" cy="437.9" r="2.8" fill="#f16448" class="mk"/>
<circle cx="237.7" cy="412.8" r="2.8" fill="#f16448" class="mk"/>
<circle cx="228.3" cy="387.6" r="2.8" fill="#f16448" fill-opacity="0.92" stroke="#401510" stroke-opacity="0.55" stroke-width="0.7"/>
<circle cx="216.8" cy="364.5" r="2.8" fill="#f16448" fill-opacity="0.92" stroke="#401510" stroke-opacity="0.55" stroke-width="0.7"/>
<circle cx="201.4" cy="343.8" r="2.8" fill="#f16448" fill-opacity="0.92" stroke="#401510" stroke-opacity="0.55" stroke-width="0.7"/>
<path d="M226.5 514.3 L233.2 490 L238.9 464.8 L240 437.9 L238.6 412.6 L230 387.3 L219.9 363.9 L205.8 343.1" fill="none" stroke="#f16448" stroke-width="2.0" stroke-opacity="0.4" stroke-linejoin="round"/>
<circle cx="233.2" cy="490" r="2.8" fill="#f16448" class="mk"/>
<circle cx="238.9" cy="464.8" r="2.8" fill="#f16448" class="mk"/>
<circle cx="240" cy="437.9" r="2.8" fill="#f16448" class="mk"/>
<circle cx="238.6" cy="412.6" r="2.8" fill="#f16448" class="mk"/>
<circle cx="230" cy="387.3" r="2.8" fill="#f16448" fill-opacity="0.92" stroke="#401510" stroke-opacity="0.55" stroke-width="0.7"/>
<circle cx="219.9" cy="363.9" r="2.8" fill="#f16448" fill-opacity="0.92" stroke="#401510" stroke-opacity="0.55" stroke-width="0.7"/>
<circle cx="205.8" cy="343.1" r="2.8" fill="#f16448" fill-opacity="0.92" stroke="#401510" stroke-opacity="0.55" stroke-width="0.7"/>
<path d="M226.5 514.3 L227.8 488.9 L223.2 463.2 L216.2 437.9 L204.2 415.2 L188.6 394.8 L169.5 377.4 L147 364.5" fill="none" stroke="#f16448" stroke-width="2.0" stroke-opacity="0.32" stroke-linejoin="round"/>
<circle cx="227.8" cy="488.9" r="2.8" fill="#f16448" class="mk"/>
<circle cx="223.2" cy="463.2" r="2.8" fill="#f16448" class="mk"/>
<circle cx="216.2" cy="437.9" r="2.8" fill="#f16448" class="mk"/>
<circle cx="204.2" cy="415.2" r="2.8" fill="#f16448" class="mk"/>
<circle cx="188.6" cy="394.8" r="2.8" fill="#f16448" class="mk"/>
<circle cx="169.5" cy="377.4" r="2.8" fill="#f16448" class="mk"/>
<circle cx="147" cy="364.5" r="2.8" fill="#f16448" class="mk"/>
<path d="M226.5 514.3 L228 488.8 L223.8 462.8 L217.2 437.4 L205.5 414.5 L190.3 394 L171.8 376.2 L150.2 363" fill="none" stroke="#f16448" stroke-width="2.0" stroke-opacity="0.32" stroke-linejoin="round"/>
<circle cx="228" cy="488.8" r="2.8" fill="#f16448" class="mk"/>
<circle cx="223.8" cy="462.8" r="2.8" fill="#f16448" class="mk"/>
<circle cx="217.2" cy="437.4" r="2.8" fill="#f16448" class="mk"/>
<circle cx="205.5" cy="414.5" r="2.8" fill="#f16448" class="mk"/>
<circle cx="190.3" cy="394" r="2.8" fill="#f16448" class="mk"/>
<circle cx="171.8" cy="376.2" r="2.8" fill="#f16448" class="mk"/>
<circle cx="150.2" cy="363" r="2.8" fill="#f16448" class="mk"/>
<path d="M226.5 514.3 L228.2 488.7 L224.4 462.5 L218.2 437 L206.8 413.9 L192 393.3 L174 375.5 L152.5 361.9" fill="none" stroke="#f16448" stroke-width="2.0" stroke-opacity="0.32" stroke-linejoin="round"/>
<circle cx="228.2" cy="488.7" r="2.8" fill="#f16448" class="mk"/>
<circle cx="224.4" cy="462.5" r="2.8" fill="#f16448" class="mk"/>
<circle cx="218.2" cy="437" r="2.8" fill="#f16448" class="mk"/>
<circle cx="206.8" cy="413.9" r="2.8" fill="#f16448" class="mk"/>
<circle cx="192" cy="393.3" r="2.8" fill="#f16448" class="mk"/>
<circle cx="174" cy="375.5" r="2.8" fill="#f16448" class="mk"/>
<circle cx="152.5" cy="361.9" r="2.8" fill="#f16448" class="mk"/>
<path d="M226.5 514.3 L228.5 488.5 L229 462 L227 435 L222.5 409.6 L215.5 385 L205 361 L190.9 339.3" fill="none" stroke="#fdae61" stroke-width="2.0" stroke-opacity="0.43" stroke-linejoin="round"/>
<circle cx="228.5" cy="488.5" r="2.8" fill="#fdae61" class="mk"/>
<circle cx="229" cy="462" r="2.8" fill="#fdae61" class="mk"/>
<circle cx="227" cy="435" r="2.8" fill="#fdae61" class="mk"/>
<circle cx="222.5" cy="409.6" r="2.8" fill="#fdae61" class="mk"/>
<circle cx="215.5" cy="385" r="2.8" fill="#fdae61" class="mk"/>
<circle cx="205" cy="361" r="2.8" fill="#fdae61" class="mk"/>
<circle cx="190.9" cy="339.3" r="2.8" fill="#fdae61" class="mk"/>
<path d="M226.5 514.3 L228.8 488.5 L230 462 L228.9 435 L224.8 409.8 L218.4 384.9 L209 360.4 L196.7 337.6" fill="none" stroke="#fdae61" stroke-width="2.0" stroke-opacity="0.43" stroke-linejoin="round"/>
<circle cx="228.8" cy="488.5" r="2.8" fill="#fdae61" class="mk"/>
<circle cx="230" cy="462" r="2.8" fill="#fdae61" class="mk"/>
<circle cx="228.9" cy="435" r="2.8" fill="#fdae61" class="mk"/>
<circle cx="224.8" cy="409.8" r="2.8" fill="#fdae61" class="mk"/>
<circle cx="218.4" cy="384.9" r="2.8" fill="#fdae61" class="mk"/>
<circle cx="209" cy="360.4" r="2.8" fill="#fdae61" class="mk"/>
<circle cx="196.7" cy="337.6" r="2.8" fill="#fdae61" class="mk"/>
<path d="M226.5 514.3 L229 488.5 L230.5 462 L230 435 L226.5 409.8 L220.7 384.9 L211.3 360.4 L199.6 337.3" fill="none" stroke="#fdae61" stroke-width="2.0" stroke-opacity="0.43" stroke-linejoin="round"/>
<circle cx="229" cy="488.5" r="2.8" fill="#fdae61" class="mk"/>
<circle cx="230.5" cy="462" r="2.8" fill="#fdae61" class="mk"/>
<circle cx="230" cy="435" r="2.8" fill="#fdae61" class="mk"/>
<circle cx="226.5" cy="409.8" r="2.8" fill="#fdae61" class="mk"/>
<circle cx="220.7" cy="384.9" r="2.8" fill="#fdae61" class="mk"/>
<circle cx="211.3" cy="360.4" r="2.8" fill="#fdae61" class="mk"/>
<circle cx="199.6" cy="337.3" r="2.8" fill="#fdae61" class="mk"/>
<path d="M226.5 514.3 L228 488.5 L227.6 462.1 L224.8 434.8 L219.9 409.3 L213.1 384.4 L203.5 359.8 L192.3 335.8" fill="none" stroke="#fee090" stroke-width="2.0" stroke-opacity="0.43" stroke-linejoin="round"/>
<circle cx="228" cy="488.5" r="2.8" fill="#fee090" class="mk"/>
<circle cx="227.6" cy="462.1" r="2.8" fill="#fee090" class="mk"/>
<circle cx="224.8" cy="434.8" r="2.8" fill="#fee090" class="mk"/>
<circle cx="219.9" cy="409.3" r="2.8" fill="#fee090" class="mk"/>
<circle cx="213.1" cy="384.4" r="2.8" fill="#fee090" class="mk"/>
<circle cx="203.5" cy="359.8" r="2.8" fill="#fee090" class="mk"/>
<circle cx="192.3" cy="335.8" r="2.8" fill="#fee090" class="mk"/>
<path d="M226.5 514.3 L228.5 488.5 L231 461.8 L233.5 434.5 L234.5 408.4 L234.8 381.8 L234.6 354.9 L234.4 328.8" fill="none" stroke="#e0f3f8" stroke-width="2.0" stroke-opacity="0.28" stroke-linejoin="round"/>
<circle cx="228.5" cy="488.5" r="2.8" fill="#e0f3f8" class="mk"/>
<circle cx="231" cy="461.8" r="2.8" fill="#e0f3f8" class="mk"/>
<circle cx="233.5" cy="434.5" r="2.8" fill="#e0f3f8" class="mk"/>
<circle cx="234.5" cy="408.4" r="2.8" fill="#e0f3f8" class="mk"/>
<circle cx="234.8" cy="381.8" r="2.8" fill="#e0f3f8" class="mk"/>
<circle cx="234.6" cy="354.9" r="2.8" fill="#e0f3f8" class="mk"/>
<circle cx="234.4" cy="328.8" r="2.8" fill="#e0f3f8" class="mk"/>
<path d="M226.5 514.3 L228.5 488.5 L231.3 461.8 L234.2 434.5 L235.4 408.4 L235.9 381.8 L235.9 354.9 L235.8 328.8" fill="none" stroke="#abd9e9" stroke-width="2.0" stroke-opacity="0.28" stroke-linejoin="round"/>
<circle cx="228.5" cy="488.5" r="2.8" fill="#abd9e9" class="mk"/>
<circle cx="231.3" cy="461.8" r="2.8" fill="#abd9e9" class="mk"/>
<circle cx="234.2" cy="434.5" r="2.8" fill="#abd9e9" class="mk"/>
<circle cx="235.4" cy="408.4" r="2.8" fill="#abd9e9" class="mk"/>
<circle cx="235.9" cy="381.8" r="2.8" fill="#abd9e9" class="mk"/>
<circle cx="235.9" cy="354.9" r="2.8" fill="#abd9e9" class="mk"/>
<circle cx="235.8" cy="328.8" r="2.8" fill="#abd9e9" class="mk"/>
<path d="M226.5 514.3 L228.5 488.5 L230.8 461.8 L233 434.5 L233.6 408.4 L233.6 381.8 L233.5 354.9 L233.2 328.8" fill="none" stroke="#74add1" stroke-width="2.0" stroke-opacity="0.28" stroke-linejoin="round"/>
<circle cx="228.5" cy="488.5" r="2.8" fill="#74add1" class="mk"/>
<circle cx="230.8" cy="461.8" r="2.8" fill="#74add1" class="mk"/>
<circle cx="233" cy="434.5" r="2.8" fill="#74add1" class="mk"/>
<circle cx="233.6" cy="408.4" r="2.8" fill="#74add1" class="mk"/>
<circle cx="233.6" cy="381.8" r="2.8" fill="#74add1" class="mk"/>
<circle cx="233.5" cy="354.9" r="2.8" fill="#74add1" class="mk"/>
<circle cx="233.2" cy="328.8" r="2.8" fill="#74add1" class="mk"/>
<path d="M226.5 514.3 L228.5 488.5 L231.6 461.8 L234.8 434.5 L236.3 408.4 L236.9 381.8 L237.2 354.9 L237.4 328.8" fill="none" stroke="#74add1" stroke-width="2.0" stroke-opacity="0.28" stroke-linejoin="round"/>
<circle cx="228.5" cy="488.5" r="2.8" fill="#74add1" class="mk"/>
<circle cx="231.6" cy="461.8" r="2.8" fill="#74add1" class="mk"/>
<circle cx="234.8" cy="434.5" r="2.8" fill="#74add1" class="mk"/>
<circle cx="236.3" cy="408.4" r="2.8" fill="#74add1" class="mk"/>
<circle cx="236.9" cy="381.8" r="2.8" fill="#74add1" class="mk"/>
<circle cx="237.2" cy="354.9" r="2.8" fill="#74add1" class="mk"/>
<circle cx="237.4" cy="328.8" r="2.8" fill="#74add1" class="mk"/>
<path d="M226.5 514.3 L228.5 488.5 L231.8 461.8 L235.2 434.5 L237 408.4 L237.8 381.8 L238.3 354.9 L238.7 328.8" fill="none" stroke="#4575b4" stroke-width="2.0" stroke-opacity="0.28" stroke-linejoin="round"/>
<circle cx="228.5" cy="488.5" r="2.8" fill="#4575b4" class="mk"/>
<circle cx="231.8" cy="461.8" r="2.8" fill="#4575b4" class="mk"/>
<circle cx="235.2" cy="434.5" r="2.8" fill="#4575b4" class="mk"/>
<circle cx="237" cy="408.4" r="2.8" fill="#4575b4" class="mk"/>
<circle cx="237.8" cy="381.8" r="2.8" fill="#4575b4" class="mk"/>
<circle cx="238.3" cy="354.9" r="2.8" fill="#4575b4" class="mk"/>
<circle cx="238.7" cy="328.8" r="2.8" fill="#4575b4" class="mk"/>
<path d="M226.5 514.3 L228.4 488.3 L229.8 461.3 L229.5 433.5 L228.5 406.3 L227.1 380.9 L226.3 354.2 L224.6 327.2" fill="none" stroke="#313695" stroke-width="2.0" stroke-opacity="0.43" stroke-linejoin="round"/>
<path d="M226.5 514.3 L228.4 488.3 L229.8 461.3 L229.5 433.5 L228.5 406.3 L227.1 380.9 L226.3 354.2 L224.6 327.2" fill="none" stroke="#313695" stroke-width="2.0" stroke-opacity="0.43" stroke-linejoin="round"/>
<path d="M226.5 514.3 L228.4 488.3 L229.8 461.3 L229.5 433.5 L228.5 406.3 L227.1 380.9 L226.3 354.2 L224.6 327.2" fill="none" stroke="#313695" stroke-width="2.0" stroke-opacity="0.43" stroke-linejoin="round"/>
<circle cx="228.4" cy="488.3" r="2.8" fill="#313695" class="mk"/>
<circle cx="229.8" cy="461.3" r="2.8" fill="#313695" class="mk"/>
<circle cx="229.5" cy="433.5" r="2.8" fill="#313695" class="mk"/>
<circle cx="228.5" cy="406.3" r="2.8" fill="#313695" class="mk"/>
<circle cx="227.1" cy="380.9" r="2.8" fill="#313695" class="mk"/>
<circle cx="226.3" cy="354.2" r="2.8" fill="#313695" class="mk"/>
<circle cx="224.6" cy="327.2" r="2.8" fill="#313695" class="mk"/>
<path d="M226.5 514.3 L228.5 488.6 L229.5 461.9 L230.5 434.6 L230.5 408.5 L229.8 382 L228.8 355.2 L227.6 328.5" fill="none" stroke="#ffffbf" stroke-width="2.0" stroke-opacity="0.43" stroke-linejoin="round"/>
<circle cx="228.5" cy="488.6" r="2.8" fill="#ffffbf" class="mk"/>
<circle cx="229.5" cy="461.9" r="2.8" fill="#ffffbf" class="mk"/>
<circle cx="230.5" cy="434.6" r="2.8" fill="#ffffbf" class="mk"/>
<circle cx="230.5" cy="408.5" r="2.8" fill="#ffffbf" class="mk"/>
<circle cx="229.8" cy="382" r="2.8" fill="#ffffbf" class="mk"/>
<circle cx="228.8" cy="355.2" r="2.8" fill="#ffffbf" class="mk"/>
<circle cx="227.6" cy="328.5" r="2.8" fill="#ffffbf" class="mk"/>
<path d="M226.5 514.3 L228.5 488.5 L231.8 461.8 L235.8 434.6 L237.2 408.6 L237.6 382 L236.3 354.8 L236.9 328.7" fill="none" stroke="#ffffbf" stroke-width="2.0" stroke-opacity="0.43" stroke-linejoin="round"/>
<circle cx="228.5" cy="488.5" r="2.8" fill="#ffffbf" class="mk"/>
<circle cx="231.8" cy="461.8" r="2.8" fill="#ffffbf" class="mk"/>
<circle cx="235.8" cy="434.6" r="2.8" fill="#ffffbf" class="mk"/>
<circle cx="237.2" cy="408.6" r="2.8" fill="#ffffbf" class="mk"/>
<circle cx="237.6" cy="382" r="2.8" fill="#ffffbf" class="mk"/>
<circle cx="236.3" cy="354.8" r="2.8" fill="#ffffbf" class="mk"/>
<circle cx="236.9" cy="328.7" r="2.8" fill="#ffffbf" class="mk"/>
<path d="M226.5 514.3 L228.5 488.5 L232.2 461.8 L237.1 434.8 L238.8 408.7 L239.4 382 L240.9 355.2 L240.8 328.9" fill="none" stroke="#ffffbf" stroke-width="2.0" stroke-opacity="0.43" stroke-linejoin="round"/>
<circle cx="228.5" cy="488.5" r="2.8" fill="#ffffbf" class="mk"/>
<circle cx="232.2" cy="461.8" r="2.8" fill="#ffffbf" class="mk"/>
<circle cx="237.1" cy="434.8" r="2.8" fill="#ffffbf" class="mk"/>
<circle cx="238.8" cy="408.7" r="2.8" fill="#ffffbf" class="mk"/>
<circle cx="239.4" cy="382" r="2.8" fill="#ffffbf" class="mk"/>
<circle cx="240.9" cy="355.2" r="2.8" fill="#ffffbf" class="mk"/>
<circle cx="240.8" cy="328.9" r="2.8" fill="#ffffbf" class="mk"/>
<path d="M226.5 514.3 L228.5 488.5 L231.2 461.7 L232.4 434.1 L232.4 407.9 L231.8 381.5 L231.7 354.2 L230.9 327.9" fill="none" stroke="#ffffbf" stroke-width="2.0" stroke-opacity="0.43" stroke-linejoin="round"/>
<circle cx="228.5" cy="488.5" r="2.8" fill="#ffffbf" class="mk"/>
<circle cx="231.2" cy="461.7" r="2.8" fill="#ffffbf" class="mk"/>
<circle cx="232.4" cy="434.1" r="2.8" fill="#ffffbf" class="mk"/>
<circle cx="232.4" cy="407.9" r="2.8" fill="#ffffbf" class="mk"/>
<circle cx="231.8" cy="381.5" r="2.8" fill="#ffffbf" class="mk"/>
<circle cx="231.7" cy="354.2" r="2.8" fill="#ffffbf" class="mk"/>
<circle cx="230.9" cy="327.9" r="2.8" fill="#ffffbf" class="mk"/>
<circle cx="226.5" cy="514.3" r="2.9" fill="#ffffbf" class="mk"/>
<rect x="260.2" y="322.4" width="13.7" height="17.76" fill="#a50026"/>
<rect x="260.2" y="339.86" width="13.7" height="17.76" fill="#d8183a"/>
<rect x="260.2" y="357.33" width="13.7" height="17.76" fill="#f16448"/>
<rect x="260.2" y="374.79" width="13.7" height="17.76" fill="#fdae61"/>
<rect x="260.2" y="392.25" width="13.7" height="17.76" fill="#fee090"/>
<rect x="260.2" y="409.72" width="13.7" height="17.76" fill="#ffffbf"/>
<rect x="260.2" y="427.18" width="13.7" height="17.76" fill="#e0f3f8"/>
<rect x="260.2" y="444.65" width="13.7" height="17.76" fill="#abd9e9"/>
<rect x="260.2" y="462.11" width="13.7" height="17.76" fill="#74add1"/>
<rect x="260.2" y="479.57" width="13.7" height="17.76" fill="#4575b4"/>
<rect x="260.2" y="497.04" width="13.7" height="17.76" fill="#313695"/>
<rect x="260.2" y="322.4" width="13.7" height="192.1" class="cbox"/>
<line x1="272.1" y1="331.13" x2="273.9" y2="331.13" class="tick"/>
<text x="279.3" y="337.73" class="t18">4.00</text>
<line x1="272.1" y1="348.6" x2="273.9" y2="348.6" class="tick"/>
<text x="279.3" y="355.2" class="t18">3.00</text>
<line x1="272.1" y1="366.06" x2="273.9" y2="366.06" class="tick"/>
<text x="279.3" y="372.66" class="t18">2.00</text>
<line x1="272.1" y1="383.52" x2="273.9" y2="383.52" class="tick"/>
<text x="279.3" y="390.12" class="t18">1.50</text>
<line x1="272.1" y1="400.99" x2="273.9" y2="400.99" class="tick"/>
<text x="279.3" y="407.59" class="t18">1.33</text>
<line x1="272.1" y1="418.45" x2="273.9" y2="418.45" class="tick"/>
<text x="279.3" y="425.05" class="t18">1.00</text>
<line x1="272.1" y1="435.91" x2="273.9" y2="435.91" class="tick"/>
<text x="279.3" y="442.51" class="t18">0.75</text>
<line x1="272.1" y1="453.38" x2="273.9" y2="453.38" class="tick"/>
<text x="279.3" y="459.98" class="t18">0.67</text>
<line x1="272.1" y1="470.84" x2="273.9" y2="470.84" class="tick"/>
<text x="279.3" y="477.44" class="t18">0.50</text>
<line x1="272.1" y1="488.3" x2="273.9" y2="488.3" class="tick"/>
<text x="279.3" y="494.9" class="t18">0.33</text>
<line x1="272.1" y1="505.77" x2="273.9" y2="505.77" class="tick"/>
<text x="279.3" y="512.37" class="t18">0.25</text>
<text transform="translate(335.4 418.2) rotate(-90)" class="t20c" text-anchor="middle">Ratio</text>
</g>
<g id="tr">
<line x1="478.18" y1="30.5" x2="478.18" y2="238.4" class="grid"/>
<line x1="543.75" y1="30.5" x2="543.75" y2="238.4" class="grid"/>
<line x1="609.33" y1="30.5" x2="609.33" y2="238.4" class="grid"/>
<line x1="412.6" y1="186.43" x2="674.9" y2="186.43" class="grid"/>
<line x1="412.6" y1="134.45" x2="674.9" y2="134.45" class="grid"/>
<line x1="412.6" y1="82.47" x2="674.9" y2="82.47" class="grid"/>
<path d="M412.6 238.4 V30.5" class="boxs"/><path d="M674.9 238.4 V30.5" class="boxs"/><path d="M412.6 238.4 H674.9" class="boxs"/><path d="M412.6 30.5 H674.9" class="boxt"/>
<line x1="412.6" y1="212.41" x2="415.9" y2="212.41" class="tick"/>
<line x1="412.6" y1="186.43" x2="418.8" y2="186.43" class="tick"/>
<line x1="412.6" y1="160.44" x2="415.9" y2="160.44" class="tick"/>
<line x1="412.6" y1="134.45" x2="418.8" y2="134.45" class="tick"/>
<line x1="412.6" y1="108.46" x2="415.9" y2="108.46" class="tick"/>
<line x1="412.6" y1="82.47" x2="418.8" y2="82.47" class="tick"/>
<line x1="412.6" y1="56.49" x2="415.9" y2="56.49" class="tick"/>
<line x1="445.39" y1="238.4" x2="445.39" y2="235.3" class="tick"/>
<line x1="478.18" y1="238.4" x2="478.18" y2="232.2" class="tick"/>
<line x1="510.96" y1="238.4" x2="510.96" y2="235.3" class="tick"/>
<line x1="543.75" y1="238.4" x2="543.75" y2="232.2" class="tick"/>
<line x1="576.54" y1="238.4" x2="576.54" y2="235.3" class="tick"/>
<line x1="609.33" y1="238.4" x2="609.33" y2="232.2" class="tick"/>
<line x1="642.11" y1="238.4" x2="642.11" y2="235.3" class="tick"/>
<text x="406.2" y="246.3" class="t19" text-anchor="end">0</text>
<text x="406.2" y="194.33" class="t19" text-anchor="end">0.5</text>
<text x="406.2" y="142.35" class="t19" text-anchor="end">1</text>
<text x="406.2" y="90.38" class="t19" text-anchor="end">1.5</text>
<text x="406.2" y="38.4" class="t19" text-anchor="end">2</text>
<text x="412.8" y="263" class="t19" text-anchor="middle">0</text>
<text x="478.38" y="263" class="t19" text-anchor="middle">1</text>
<text x="543.95" y="263" class="t19" text-anchor="middle">2</text>
<text x="609.53" y="263" class="t19" text-anchor="middle">3</text>
<text x="675.1" y="263" class="t19" text-anchor="middle">4</text>
<text x="543.8" y="286.6" class="t20" text-anchor="middle">Ratio (Pouch / Chamber)</text>
<text transform="translate(373 134.8) rotate(-90)" class="t20m" text-anchor="middle">Max Curvature (1/mm)</text>
<text x="413.0" y="29.3" font-size="23.5">×</text>
<text x="427.9" y="26.4" font-size="20">10</text>
<text x="450.0" y="16.8" font-size="15.6">-3</text>
<circle cx="543.7" cy="151.4" r="2.8" fill="#f16448" fill-opacity="0.8"/>
<circle cx="543.7" cy="172.8" r="2.8" fill="#f16448" fill-opacity="0.55"/>
<circle cx="674.8" cy="81.8" r="4.25" fill="#a50026" class="mk2"/>
<circle cx="609.3" cy="98.1" r="4.25" fill="#d8183a" class="mk2"/>
<circle cx="543.7" cy="129.3" r="4.25" fill="#f16448" class="mk2"/>
<circle cx="543.7" cy="157.3" r="4.25" fill="#f16448" class="mk2"/>
<circle cx="510.8" cy="151.8" r="4.25" fill="#fdae61" class="mk2"/>
<circle cx="499.8" cy="160.5" r="4.25" fill="#fee090" class="mk2"/>
<circle cx="477.9" cy="207.2" r="4.25" fill="#ffffbf" class="mk2"/>
<circle cx="477.9" cy="180.5" r="4.25" fill="#ffffbf" class="mk2"/>
<circle cx="477.9" cy="192.8" r="4.25" fill="#ffffbf" class="mk2"/>
<circle cx="477.9" cy="186.6" r="4.25" fill="#ffffbf" class="mk2"/>
<circle cx="456" cy="204.2" r="4.25" fill="#abd9e9" class="mk2"/>
<circle cx="461.6" cy="193.4" r="4.25" fill="#e0f3f8" class="mk2"/>
<circle cx="445" cy="215.1" r="4.25" fill="#74add1" class="mk2"/>
<circle cx="445" cy="210.2" r="4.25" fill="#74add1" class="mk2"/>
<circle cx="434.2" cy="220.1" r="4.25" fill="#4575b4" class="mk2"/>
<circle cx="428.7" cy="222.7" r="4.25" fill="#313695" class="mk2"/>
</g>
<g id="br">
<line x1="478.18" y1="330.5" x2="478.18" y2="538.4" class="grid"/>
<line x1="543.75" y1="330.5" x2="543.75" y2="538.4" class="grid"/>
<line x1="609.33" y1="330.5" x2="609.33" y2="538.4" class="grid"/>
<line x1="412.6" y1="486.42" x2="674.9" y2="486.42" class="grid"/>
<line x1="412.6" y1="434.45" x2="674.9" y2="434.45" class="grid"/>
<line x1="412.6" y1="382.47" x2="674.9" y2="382.47" class="grid"/>
<path d="M412.6 538.4 V330.5" class="boxs"/><path d="M674.9 538.4 V330.5" class="boxs"/><path d="M412.6 538.4 H674.9" class="boxs"/><path d="M412.6 330.5 H674.9" class="boxt"/>
<line x1="412.6" y1="512.41" x2="415.9" y2="512.41" class="tick"/>
<line x1="412.6" y1="486.42" x2="418.8" y2="486.42" class="tick"/>
<line x1="412.6" y1="460.44" x2="415.9" y2="460.44" class="tick"/>
<line x1="412.6" y1="434.45" x2="418.8" y2="434.45" class="tick"/>
<line x1="412.6" y1="408.46" x2="415.9" y2="408.46" class="tick"/>
<line x1="412.6" y1="382.47" x2="418.8" y2="382.47" class="tick"/>
<line x1="412.6" y1="356.49" x2="415.9" y2="356.49" class="tick"/>
<line x1="445.39" y1="538.4" x2="445.39" y2="535.3" class="tick"/>
<line x1="478.18" y1="538.4" x2="478.18" y2="532.2" class="tick"/>
<line x1="510.96" y1="538.4" x2="510.96" y2="535.3" class="tick"/>
<line x1="543.75" y1="538.4" x2="543.75" y2="532.2" class="tick"/>
<line x1="576.54" y1="538.4" x2="576.54" y2="535.3" class="tick"/>
<line x1="609.33" y1="538.4" x2="609.33" y2="532.2" class="tick"/>
<line x1="642.11" y1="538.4" x2="642.11" y2="535.3" class="tick"/>
<text x="406.2" y="546.3" class="t19" text-anchor="end">0</text>
<text x="406.2" y="494.32" class="t19" text-anchor="end">0.5</text>
<text x="406.2" y="442.35" class="t19" text-anchor="end">1</text>
<text x="406.2" y="390.37" class="t19" text-anchor="end">1.5</text>
<text x="406.2" y="338.4" class="t19" text-anchor="end">2</text>
<text x="412.8" y="563" class="t19" text-anchor="middle">0</text>
<text x="478.38" y="563" class="t19" text-anchor="middle">1</text>
<text x="543.95" y="563" class="t19" text-anchor="middle">2</text>
<text x="609.53" y="563" class="t19" text-anchor="middle">3</text>
<text x="675.1" y="563" class="t19" text-anchor="middle">4</text>
<text x="543.8" y="586.6" class="t20" text-anchor="middle">Ratio (Pouch / Chamber)</text>
<text transform="translate(373 434.8) rotate(-90)" class="t20m" text-anchor="middle">Max Curvature (1/mm)</text>
<text x="413.0" y="329.3" font-size="23.5">×</text>
<text x="427.9" y="326.4" font-size="20">10</text>
<text x="450.0" y="316.8" font-size="15.6">-3</text>
<circle cx="609.3" cy="386.8" r="4.25" fill="#d8183a" class="mk2"/>
<circle cx="543.7" cy="462.9" r="4.25" fill="#f16448" class="mk2"/>
<circle cx="543.7" cy="474.5" r="4.25" fill="#f16448" class="mk2"/>
<circle cx="510.8" cy="494.9" r="4.25" fill="#fdae61" class="mk2"/>
<circle cx="499.8" cy="502.3" r="4.25" fill="#fee090" class="mk2"/>
<circle cx="477.9" cy="526.5" r="4.25" fill="#ffffbf" class="mk2"/>
<circle cx="477.9" cy="527" r="4.25" fill="#ffffbf" class="mk2"/>
<circle cx="477.9" cy="527.6" r="4.25" fill="#ffffbf" class="mk2"/>
<circle cx="477.9" cy="528.8" r="4.25" fill="#ffffbf" class="mk2"/>
<circle cx="456" cy="528.4" r="4.25" fill="#abd9e9" class="mk2"/>
<circle cx="461.6" cy="527.1" r="4.25" fill="#e0f3f8" class="mk2"/>
<circle cx="445" cy="526.9" r="4.25" fill="#74add1" class="mk2"/>
<circle cx="445" cy="528.6" r="4.25" fill="#74add1" class="mk2"/>
<circle cx="434.2" cy="527.1" r="4.25" fill="#4575b4" class="mk2"/>
<circle cx="428.7" cy="529.5" r="4.25" fill="#313695" class="mk2"/>
<circle cx="674.8" cy="332.9" r="4.25" fill="#a50026" class="mk2"/>
</g>
</svg></body></html>
